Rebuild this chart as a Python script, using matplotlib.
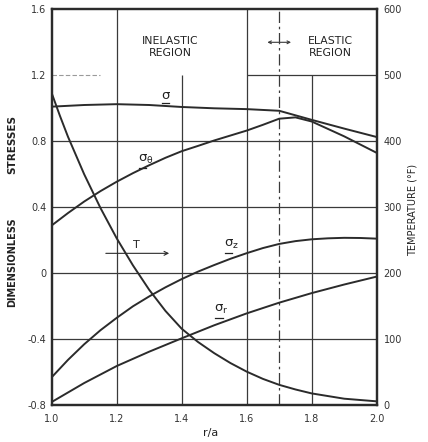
import matplotlib
matplotlib.use("Agg")
import matplotlib.pyplot as plt

# ---- data ----
r_sigma = [1.0, 1.1, 1.2, 1.3, 1.4, 1.5, 1.6, 1.7, 1.8, 1.9, 2.0]
sigma_bar = [1.01, 1.02, 1.025, 1.02, 1.008, 1.0, 0.995, 0.985, 0.93, 0.877, 0.826]

r_theta = [1.0, 1.05, 1.1, 1.15, 1.2, 1.25, 1.3, 1.35, 1.4, 1.45, 1.5, 1.55, 1.6,
           1.65, 1.7, 1.75, 1.8, 1.9, 2.0]
sigma_theta = [0.29, 0.365, 0.435, 0.498, 0.555, 0.607, 0.655, 0.70, 0.74, 0.772, 0.805,
               0.835, 0.865, 0.90, 0.937, 0.945, 0.92, 0.83, 0.73]

r_z = [1.0, 1.05, 1.1, 1.15, 1.2, 1.25, 1.3, 1.35, 1.4, 1.45, 1.5, 1.55, 1.6, 1.65,
       1.7, 1.75, 1.8, 1.85, 1.9, 1.95, 2.0]
sigma_z = [-0.63, -0.525, -0.43, -0.345, -0.27, -0.20, -0.14, -0.085, -0.035, 0.01, 0.05,
           0.088, 0.122, 0.153, 0.178, 0.195, 0.206, 0.212, 0.215, 0.214, 0.21]

r_r = [1.0, 1.1, 1.2, 1.3, 1.4, 1.5, 1.6, 1.7, 1.8, 1.9, 2.0]
sigma_r = [-0.78, -0.665, -0.562, -0.475, -0.394, -0.315, -0.243, -0.178, -0.12, -0.068, -0.02]

r_temp = [1.0, 1.025, 1.05, 1.1, 1.15, 1.2, 1.25, 1.3, 1.35, 1.4, 1.45, 1.5, 1.55, 1.6,
          1.65, 1.7, 1.75, 1.8, 1.85, 1.9, 1.95, 2.0]
temp_F = [473, 439, 407, 350, 299, 253, 212, 175, 143, 116, 96, 79, 64, 51,
          40, 31, 24, 18, 14, 10, 8, 6]

x_ticks = [1.0, 1.2, 1.4, 1.6, 1.8, 2.0]
x_ticklabels = ["1.0", "1.2", "1.4", "1.6", "1.8", "2.0"]
y_ticks = [-0.8, -0.4, 0, 0.4, 0.8, 1.2, 1.6]
y_ticklabels = ["-0.8", "-0.4", "0", "0.4", "0.8", "1.2", "1.6"]
t_ticks = [0, 100, 200, 300, 400, 500, 600]
t_ticklabels = ["0", "100", "200", "300", "400", "500", "600"]

curve_labels = [r"$\mathregular{σ}$", r"$\mathregular{σ_θ}$",
                r"$\mathregular{σ_z}$", r"$\mathregular{σ_r}$"]

# ---- figure ----
W, H = 428, 442
fig = plt.figure(figsize=(W / 100, H / 100), dpi=100)
fig.patch.set_facecolor("white")
L, R, T, B = 51.7, 376.7, 9.3, 405.3
ax = fig.add_axes([L / W, 1 - B / H, (R - L) / W, (B - T) / H])
ax.set_xlim(1.0, 2.0)
ax.set_ylim(-0.8, 1.6)

ink = "#2b2b2b"
grid_c = "#3a3a3a"

# grid lines
for xv in [1.2, 1.6]:
    ax.vlines(xv, -0.8, 1.6, color=grid_c, lw=0.9, zorder=1)
for xv in [1.4, 1.8]:
    ax.vlines(xv, -0.8, 1.2, color=grid_c, lw=0.9, zorder=1)
for yv in [-0.4, 0, 0.4, 0.8]:
    ax.hlines(yv, 1.0, 2.0, color=grid_c, lw=0.9, zorder=1)
ax.hlines(1.2, 1.0, 1.15, color="#9a9a9a", lw=0.8, ls=(0, (4, 2)), zorder=1)
ax.hlines(1.2, 1.6, 2.0, color=grid_c, lw=0.9, zorder=1)
ax.axvline(1.7, color=grid_c, lw=0.9, ls=(0, (9, 3, 2, 3)), zorder=1)

# curves
ax.plot(r_sigma, sigma_bar, color=ink, lw=1.4, zorder=3)
ax.plot(r_theta, sigma_theta, color=ink, lw=1.4, zorder=3)
ax.plot(r_z, sigma_z, color=ink, lw=1.4, zorder=3)
ax.plot(r_r, sigma_r, color=ink, lw=1.4, zorder=3)

ax2 = ax.twinx()
ax2.set_ylim(0, 600)
ax2.plot(r_temp, temp_F, color=ink, lw=1.4, zorder=3)

# ticks
ax.set_xticks(x_ticks)
ax.set_xticklabels(x_ticklabels)
ax.set_yticks(y_ticks)
ax.set_yticklabels(y_ticklabels)
ax2.set_yticks(t_ticks)
ax2.set_yticklabels(t_ticklabels)
ax.tick_params(axis="both", length=0, labelsize=7, colors="#333333")
ax.tick_params(axis="x", pad=6)
ax.tick_params(axis="y", pad=4)
ax2.tick_params(axis="y", length=0, labelsize=7, colors="#333333", pad=5)

for a in (ax, ax2):
    for s in a.spines.values():
        s.set_linewidth(1.6)
        s.set_color(ink)

# annotations
txt = dict(color="#222222", ha="center", va="center")
ax.text(1.364, 1.372, "INELASTIC\nREGION", fontsize=7.8, linespacing=1.2, **txt)
ax.text(1.857, 1.372, "ELASTIC\nREGION", fontsize=7.8, linespacing=1.2, **txt)
ax.annotate("", xy=(1.655, 1.40), xytext=(1.745, 1.40),
            arrowprops=dict(arrowstyle="<->", color=grid_c, lw=0.8, mutation_scale=5))

label_pos = [(1.335, 1.08), (1.265, 0.69), (1.53, 0.175), (1.50, -0.22)]
for lab, (lx, ly) in zip(curve_labels, label_pos):
    ax.text(lx, ly, lab, fontsize=9.5, color="#222222", ha="left", va="center")
    ax.plot([lx + 0.003, lx + 0.026], [ly - 0.05, ly - 0.05], color="#222222", lw=0.9)

ax.text(1.26, 0.17, "T", fontsize=8, **txt)
ax.annotate("", xy=(1.37, 0.121), xytext=(1.158, 0.121),
            arrowprops=dict(arrowstyle="->", color=ink, lw=0.8, mutation_scale=7))

# axis labels
fig.text(12 / W, 1 - 262 / H, "DIMENSIONLESS", rotation=90, fontsize=7,
         fontweight="bold", ha="center", va="center", color="#222222")
fig.text(12 / W, 1 - 145 / H, "STRESSES", rotation=90, fontsize=7.5,
         fontweight="bold", ha="center", va="center", color="#222222")
fig.text(413 / W, 1 - 210 / H, "TEMPERATURE (°F)", rotation=90, fontsize=7,
         ha="center", va="center", color="#222222")
fig.text(211 / W, 1 - 433 / H, "r/a", fontsize=8, ha="center", va="center",
         color="#222222")

fig.savefig("out.png", dpi=100, facecolor="white")
